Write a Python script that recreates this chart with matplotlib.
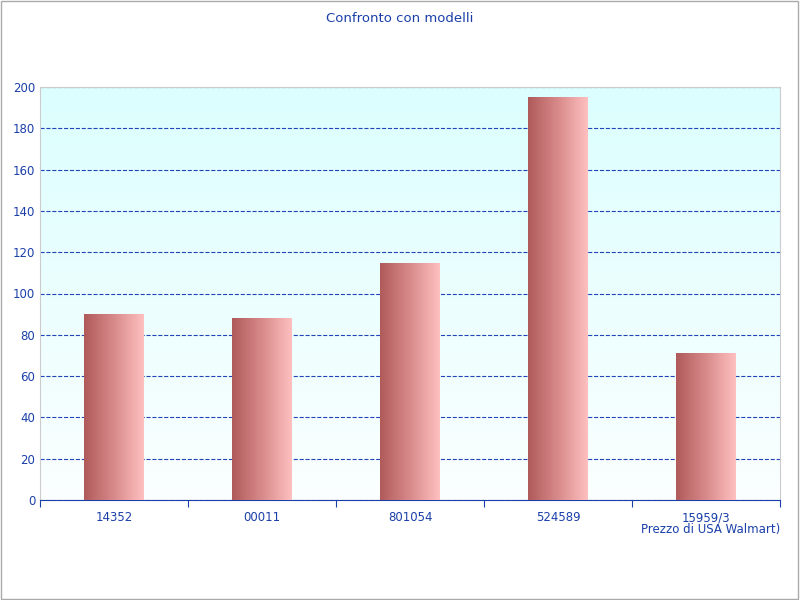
import numpy as np
import matplotlib.pyplot as plt
from matplotlib.colors import LinearSegmentedColormap
from matplotlib.patches import Rectangle

categories = ["14352", "00011", "801054", "524589", "15959/3"]
values = [90, 88, 115, 195, 71]
series_name = "Prezzo di USA Walmart)"
title = "Confronto con modelli"

blue = "#1a3fa8"
fig = plt.figure(figsize=(8, 6), dpi=100)
fig.patches.append(Rectangle((0.001, 0.001), 0.997, 0.997, transform=fig.transFigure,
                             fill=False, edgecolor="#aaaaaa", lw=1))
ax = fig.add_axes([0.05, 1 - 500 / 600, 0.925, 413 / 600])
ax.set_xlim(-0.5, len(categories) - 0.5)
ax.set_ylim(0, 200)

# background gradient
bg = LinearSegmentedColormap.from_list("bg", ["#fbfefe", "#dcffff"])
ax.imshow(np.linspace(0, 1, 256).reshape(-1, 1), cmap=bg, aspect="auto",
          extent=(-0.5, len(categories) - 0.5, 0, 200), origin="lower", zorder=0)

# bars with horizontal gradient
barcm = LinearSegmentedColormap.from_list("bar", ["#b05a5a", "#d88a8a", "#ffc0c0"])
w = 0.405
bars = ax.bar(range(len(categories)), values, width=w, color="none", zorder=3)
for b in bars:
    x0, y0 = b.get_x(), b.get_y()
    im = ax.imshow(np.linspace(0, 1, 256).reshape(1, -1), cmap=barcm, aspect="auto",
                   extent=(x0, x0 + b.get_width(), y0, y0 + b.get_height()), zorder=3)
    im.set_clip_path(b)

ax.set_yticks(range(0, 201, 20))
ax.yaxis.grid(True, color="#2244bb", linestyle="--", lw=0.8, zorder=1)
ax.set_axisbelow(True)
ax.set_xticks(np.arange(-0.5, len(categories), 1.0))
ax.set_xticklabels([])
ax.set_xticks(range(len(categories)), minor=True)
ax.set_xticklabels(categories, minor=True)
ax.tick_params(axis="x", which="minor", length=0, colors=blue, labelsize=8.5, pad=8)
ax.tick_params(axis="x", which="major", length=5, color=blue)
ax.tick_params(axis="y", length=0, colors=blue, labelsize=8.5)
for s in ax.spines.values():
    s.set_color("#cccccc")
ax.spines["bottom"].set_color(blue)

fig.text(0.5, 0.98, title, ha="center", va="top", color=blue, fontsize=9.5)
fig.text(0.975, 1 - 530 / 600, series_name, ha="right", va="center", color=blue, fontsize=8.5)
ax.set_xlim(-0.5, len(categories) - 0.5)
ax.set_ylim(0, 200)
fig.savefig("out.png")
